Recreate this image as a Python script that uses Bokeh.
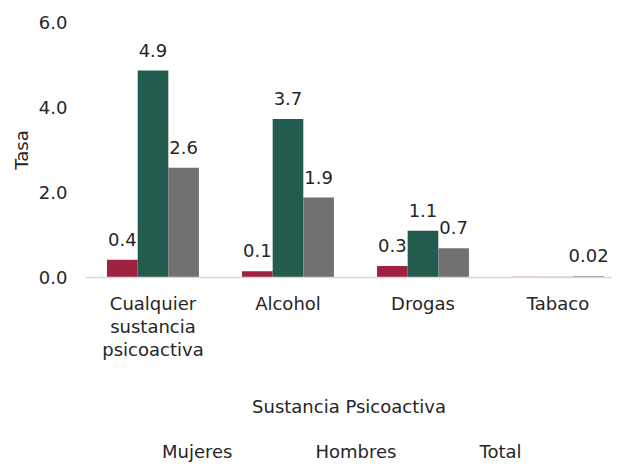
from bokeh.plotting import figure
from bokeh.models import ColumnDataSource, Range1d, FixedTicker, Legend, LegendItem, NumeralTickFormatter, LabelSet
from bokeh.core.properties import value
from bokeh.transform import dodge
from bokeh.layouts import column
from bokeh.embed import file_html
from bokeh.resources import INLINE

categories = ["Cualquier sustancia psicoactiva", "Alcohol", "Drogas", "Tabaco"]
category_labels = ["Cualquier\nsustancia\npsicoactiva", "Alcohol", "Drogas", "Tabaco"]
mujeres = [0.42, 0.15, 0.27, 0.03]
hombres = [4.87, 3.73, 1.10, 0.03]
total = [2.58, 1.88, 0.69, 0.03]
mujeres_labels = ["0.4", "0.1", "0.3", ""]
hombres_labels = ["4.9", "3.7", "1.1", ""]
total_labels = ["2.6", "1.9", "0.7", "0.02"]
y_ticks = [0, 2, 4, 6]

FONT = "DejaVu Sans"
FS = "18px"
TXT = "#262626"

xs = list(range(len(categories)))

p = figure(frame_width=527, frame_height=255, output_backend="svg", toolbar_location=None,
           x_range=Range1d(-0.5, 3.404), y_range=Range1d(0, 6),
           min_border_top=22, min_border_left=85, min_border_right=0, min_border_bottom=165)
p.outline_line_color = None
p.xgrid.visible = False
p.ygrid.visible = False

series = [
    ("Mujeres", mujeres, mujeres_labels, "#9F2241", [1, 1, 1, 0.3], -0.227),
    ("Hombres", hombres, hombres_labels, "#235B4E", [1, 1, 1, 0.25], 0.0),
    ("Total", total, total_labels, "#6F7271", [1, 1, 1, 1], 0.227),
]

for name, vals, labs, color, alphas, off in series:
    src = ColumnDataSource(dict(x=xs, y=vals, lab=labs, a=alphas))
    p.vbar(x=dodge("x", off), top="y", width=0.227, source=src,
           fill_color=color, line_color=None, fill_alpha="a")
    ls = LabelSet(x=dodge("x", off), y="y", text="lab", source=src,
                  text_align="center", text_baseline="bottom", y_offset=14,
                  text_font=value(FONT), text_font_size=value(FS), text_color=TXT)
    p.add_layout(ls)

# axes
p.yaxis.ticker = FixedTicker(ticks=y_ticks)
p.yaxis.formatter = NumeralTickFormatter(format="0.0")
p.yaxis.axis_line_color = None
p.yaxis.major_tick_line_color = None
p.yaxis.minor_tick_line_color = None
p.yaxis.major_label_standoff = 12
p.yaxis.axis_label = "Tasa"
p.yaxis.axis_label_standoff = 4
p.yaxis.axis_label_text_font_style = "normal"

p.xaxis.ticker = FixedTicker(ticks=xs)
p.xaxis.major_label_overrides = {i: l for i, l in zip(xs, category_labels)}
p.xaxis.axis_line_color = "#D9D9D9"
p.xaxis.axis_line_width = 1.5
p.xaxis.major_tick_line_color = None
p.xaxis.minor_tick_line_color = None
p.xaxis.major_label_standoff = 9
p.xaxis.major_label_text_line_height = 1.1
p.xaxis.axis_label = "Sustancia Psicoactiva"
p.xaxis.axis_label_standoff = 33
p.xaxis.axis_label_text_font_style = "normal"

for ax in (p.xaxis, p.yaxis):
    ax.major_label_text_font = FONT
    ax.major_label_text_font_size = FS
    ax.major_label_text_color = TXT
    ax.axis_label_text_font = FONT
    ax.axis_label_text_font_size = FS
    ax.axis_label_text_color = TXT

# legend strip
pl = figure(frame_width=612, frame_height=20, output_backend="svg", toolbar_location=None,
            x_axis_location=None, y_axis_location=None,
            min_border_top=0, min_border_left=0, min_border_right=0, min_border_bottom=0)
pl.outline_line_color = None
pl.xgrid.visible = False
pl.ygrid.visible = False
items = []
for name, vals, labs, color, alphas, off in series:
    r = pl.vbar(x=[], top=[], width=0.2, fill_color=color, line_color=None)
    items.append(LegendItem(label=name, renderers=[r]))
legend = Legend(items=items, orientation="horizontal", location=(146, 0),
                border_line_color=None, background_fill_alpha=0,
                label_text_font=FONT, label_text_font_size=FS, label_text_color=TXT,
                glyph_width=12, glyph_height=12, spacing=67, label_standoff=4,
                margin=0, padding=0, label_height=18)
pl.add_layout(legend, "center")

layout = column(p, pl, spacing=0)
open("out.html", "w").write(file_html(layout, INLINE))
